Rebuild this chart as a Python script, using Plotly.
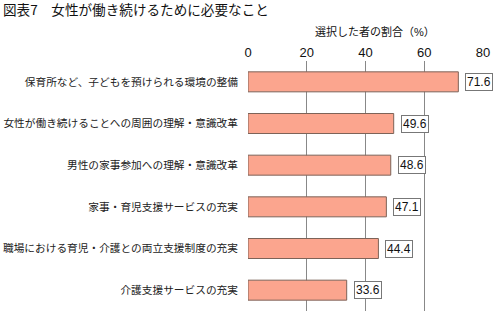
import plotly.graph_objects as go

categories = [
    "保育所など、子どもを預けられる環境の整備",
    "女性が働き続けることへの周囲の理解・意識改革",
    "男性の家事参加への理解・意識改革",
    "家事・育児支援サービスの充実",
    "職場における育児・介護との両立支援制度の充実",
    "介護支援サービスの充実",
]
values = [71.6, 49.6, 48.6, 47.1, 44.4, 33.6]
tick_vals = [0, 20, 40, 60, 80]
title_text = "図表7　女性が働き続けるために必要なこと"
axis_title = "選択した者の割合（%）"

W, H = 494, 311
L, R, T, B = 248, 11, 61, 0
pw, ph = W - L - R, H - T - B

FONT = "Liberation Sans, Arial, Noto Sans CJK JP"

fig = go.Figure(go.Bar(
    x=values, y=categories, orientation="h", width=0.48,
    marker=dict(color="#FBA58E", line=dict(color="#7d6358", width=1)),
    hoverinfo="skip",
))

annotations = []
for c, v in zip(categories, values):
    annotations.append(dict(
        x=v, y=c, xref="x", yref="y", text=f"{v:.1f}", showarrow=False,
        xanchor="left", yanchor="middle", xshift=7,
        font=dict(size=12, color="#111", family=FONT),
        bgcolor="white", bordercolor="#777", borderwidth=1, borderpad=1,
    ))

annotations.append(dict(
    x=(375 - L) / pw, y=(H - 32 - B) / ph, xref="paper", yref="paper",
    text=axis_title, showarrow=False, xanchor="center", yanchor="middle",
    font=dict(size=11, color="#111", family=FONT),
))
annotations.append(dict(
    x=(1 - L) / pw, y=(H - 9 - B) / ph, xref="paper", yref="paper",
    text=title_text, showarrow=False, xanchor="left", yanchor="middle",
    font=dict(size=13.6, color="#111", family="Noto Sans CJK JP"),
))

fig.update_layout(
    width=W, height=H, margin=dict(l=L, r=R, t=T, b=B, autoexpand=False),
    paper_bgcolor="white", plot_bgcolor="white", showlegend=False,
    annotations=annotations,
    bargap=0.52,
)
fig.update_xaxes(
    side="top", range=[0, 80], tickvals=tick_vals, ticks="",
    showgrid=True, gridcolor="#888", gridwidth=1, zeroline=False, showline=False,
    tickfont=dict(size=13, color="#111", family=FONT), fixedrange=True,
    automargin=False,
)
fig.update_yaxes(
    autorange="reversed", ticks="", showgrid=False, showline=False,
    ticklabelstandoff=9, automargin=False,
    tickfont=dict(size=10.7, color="#222", family="Noto Sans CJK JP"), fixedrange=True,
)

fig.write_html("out.html", config={"displayModeBar": False})
